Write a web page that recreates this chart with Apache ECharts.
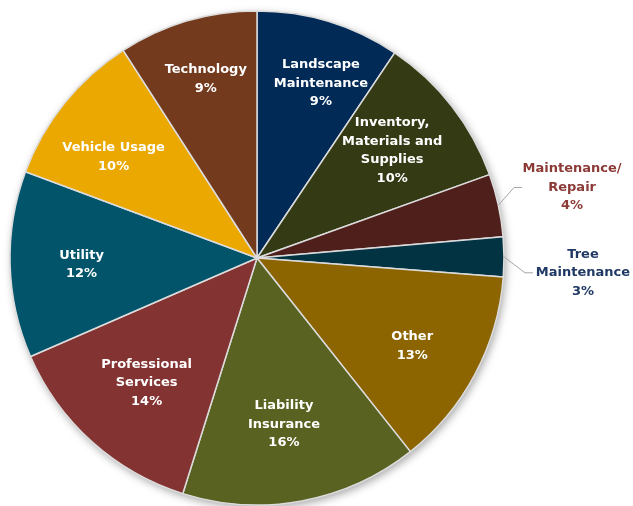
<!DOCTYPE html>
<html>
<head>
<meta charset="utf-8">
<script src="https://cdn.jsdelivr.net/npm/echarts@6/dist/echarts.min.js"></script>
<style>
html,body{margin:0;padding:0;background:#fff;}
#chart{width:633px;height:506px;}
</style>
</head>
<body>
<div id="chart"></div>
<script>
// Data (clockwise from 12 o'clock)
var categories = ['Landscape\nMaintenance', 'Inventory,\nMaterials and\nSupplies', 'Maintenance/\nRepair', 'Tree\nMaintenance', 'Other', 'Liability\nInsurance', 'Professional\nServices', 'Utility', 'Vehicle Usage', 'Technology'];
var values = [9.4, 10.1, 4.1, 2.6, 13.1, 15.5, 13.6, 12.2, 10.2, 9.1];
var colors = ['#012a57', '#343a14', '#4f1f1c', '#013343', '#8c6400', '#596220', '#833331', '#02546b', '#eba800', '#733a1e'];
var outsideLabels = ['Maintenance/\nRepair', 'Tree\nMaintenance'];
var outsideColors = {'Maintenance/\nRepair': '#8b3a36', 'Tree\nMaintenance': '#1f3864'};
// label nudges (pixels) to mimic the reference's best-fit placement
var labelNudge = [[11, -1], [-8, 4], [3, -16], [8, 16], [-5, 3], [-6, -12], [11, -10], [6, 2], [-2, 13], [0, -5]];

var chart = echarts.init(document.getElementById('chart'), null, {renderer: 'canvas'});
var FONT = '"DejaVu Sans", sans-serif';
var CENTER = [257, 258];
var R = 247;

function pieData(withLabels) {
  return categories.map(function (c, i) {
    var d = {name: c, value: values[i], itemStyle: {color: colors[i]}};
    if (withLabels && outsideLabels.indexOf(c) >= 0) {
      var col = outsideColors[c];
      d.label = {
        position: 'outside',
        formatter: function (p) {
          var lines = p.name.split('\n');
          lines.push(Math.round(p.percent) + '%');
          return lines.map(function (l) { return '{c|' + l + '}'; }).join('\n');
        },
        rich: {c: {color: col, fontFamily: FONT, fontWeight: 'bold', fontSize: 13, lineHeight: 18.5, width: 100, align: 'center'}}
      };
      d.labelLine = {show: true, length: 8, length2: 8, minTurnAngle: 20, lineStyle: {color: '#a6a6a6', width: 1}};
    }
    return d;
  });
}

var option = {
  backgroundColor: '#ffffff',
  animation: false,
  series: [
    {
      type: 'pie', silent: true, center: CENTER, radius: R, z: 1,
      label: {show: false}, labelLine: {show: false},
      data: [{value: 1, itemStyle: {color: '#ffffff', shadowBlur: 8, shadowOffsetX: 2, shadowOffsetY: 3, shadowColor: 'rgba(0,0,0,0.35)'}}]
    },
    {
      type: 'pie', silent: true, center: CENTER, radius: R, z: 2,
      startAngle: 90, clockwise: true,
      itemStyle: {borderColor: '#dcdcdc', borderWidth: 1.5},
      label: {show: false}, labelLine: {show: false},
      data: pieData(false)
    },
    {
      type: 'pie', silent: true, center: CENTER, radius: [110, R], z: 3,
      startAngle: 90, clockwise: true, avoidLabelOverlap: false,
      itemStyle: {color: 'rgba(0,0,0,0)', borderWidth: 0},
      emphasis: {disabled: true},
      label: {
        show: true, position: 'inside', color: '#ffffff',
        fontFamily: FONT, fontWeight: 'bold', fontSize: 13, lineHeight: 18.5, align: 'center',
        formatter: function (p) { return p.name + '\n' + Math.round(p.percent) + '%'; }
      },
      labelLine: {show: false},
      labelLayout: function (p) {
        var n = labelNudge[p.dataIndex];
        if (outsideLabels.indexOf(categories[p.dataIndex]) >= 0) {
          var r = p.labelRect;
          var ax = p.align === 'center' ? r.width / 2 : (p.align === 'right' ? r.width : 0);
          return {x: r.x + ax + n[0], y: r.y + r.height / 2 + n[1]};
        }
        return {dx: n[0], dy: n[1]};
      },
      data: pieData(true).map(function (d) { d.itemStyle = {color: 'rgba(0,0,0,0)'}; return d; })
    }
  ]
};
chart.setOption(option);
</script>
</body>
</html>
